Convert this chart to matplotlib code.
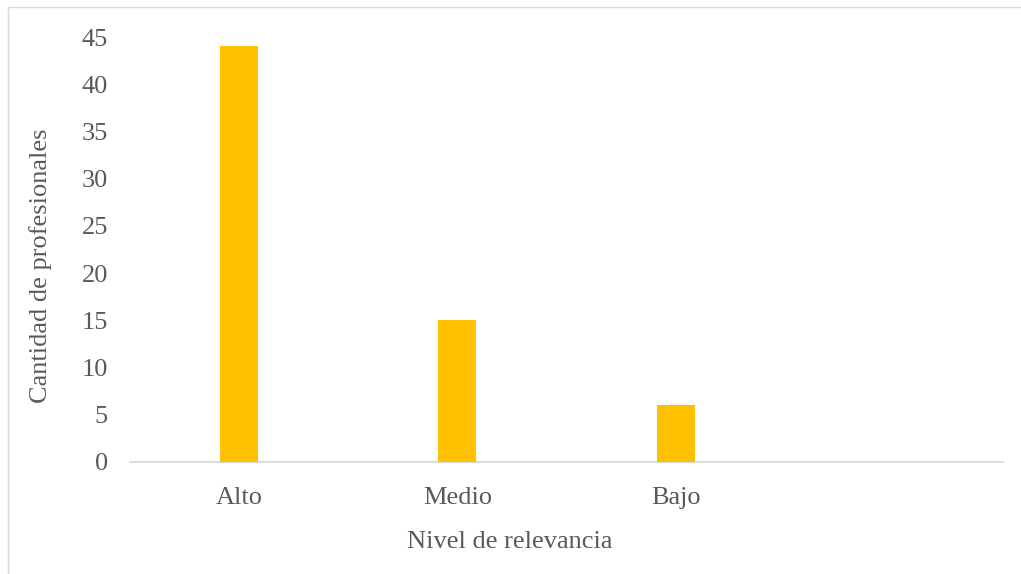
import matplotlib
matplotlib.use("Agg")
import matplotlib.pyplot as plt
from matplotlib.patches import Rectangle

categories = ["Alto", "Medio", "Bajo", ""]
values = [44, 15, 6, 0]
yticks = [0, 5, 10, 15, 20, 25, 30, 35, 40, 45]

plt.rcParams['font.family'] = ['Liberation Serif', 'DejaVu Serif']
txt = "#595959"

W, H = 1021, 574
fig = plt.figure(figsize=(W/100, H/100), dpi=100)
ax = fig.add_axes([130/W, 1 - 462/H, (1003-130)/W, (462-37)/H])

x = list(range(len(categories)))
ax.bar(x[:3], values[:3], width=0.175, color="#FFC000", zorder=3)
ax.set_xlim(-0.5, len(categories) - 0.5)
ax.set_ylim(0, 45)
ax.set_xticks(x)
ax.set_xticklabels(categories)
ax.set_yticks(yticks)
ax.tick_params(axis='both', length=0, labelsize=19, labelcolor=txt)
ax.tick_params(axis='x', pad=18)
ax.tick_params(axis='y', pad=16)
for s in ['top', 'right', 'left']:
    ax.spines[s].set_visible(False)
ax.spines['bottom'].set_color("#d9d9d9")
ax.spines['bottom'].set_linewidth(1.3)

fig.text(510/W, 1 - 542/H, "Nivel de relevancia", fontsize=19, color=txt,
         ha='center', va='center')
fig.text(41/W, 1 - 266/H, "Cantidad de profesionales", fontsize=19, color=txt,
         ha='center', va='center', rotation=90)

fig.patches.append(Rectangle((8/W, -0.05), 1.2, 1 - 7/H + 0.05, transform=fig.transFigure,
                             fill=False, edgecolor="#d9d9d9", linewidth=1))

fig.savefig("out.png", dpi=100)
